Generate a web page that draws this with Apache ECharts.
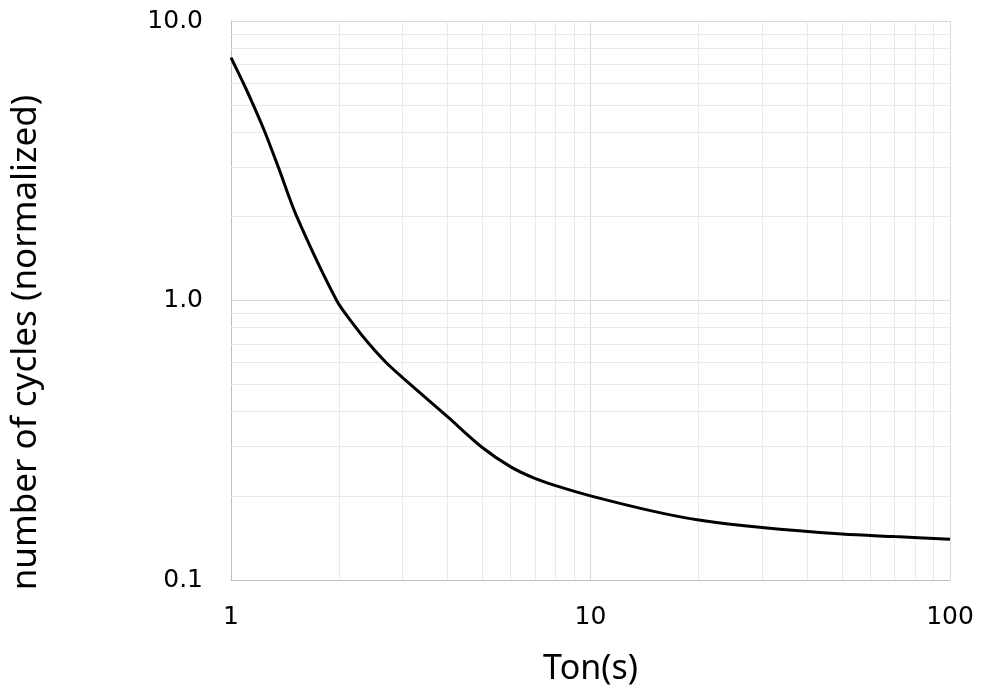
<!DOCTYPE html>
<html>
<head>
<meta charset="utf-8">
<script src="https://cdn.jsdelivr.net/npm/echarts@6/dist/echarts.min.js"></script>
<style>
  html, body { margin: 0; padding: 0; background: #fff; }
  #chart { width: 981px; height: 691px; }
</style>
</head>
<body>
<div id="chart"></div>
<script>
// Ton(s) vs normalized number of cycles
var tonValues = [1, 1.082, 1.154, 1.243, 1.354, 1.523, 1.968, 2.21, 2.42, 2.70, 3, 4, 5, 6, 7, 8, 10, 15, 20, 30, 50, 70, 100];
var cycleValues = [7.4, 6, 5, 4, 3, 2, 1.0, 0.81, 0.7, 0.6, 0.53, 0.384, 0.298, 0.254, 0.231, 0.2175, 0.2, 0.176, 0.164, 0.154, 0.146, 0.143, 0.140];

// minor gridline positions (log scale)
var xMinor = [2, 3, 4, 5, 6, 7, 8, 9, 20, 30, 40, 50, 60, 70, 80, 90];
var yMinor = [0.2, 0.3, 0.4, 0.5, 0.6, 0.7, 0.8, 0.9, 2, 3, 4, 5, 6, 7, 8, 9];

var myChart = echarts.init(document.getElementById('chart'));

var seriesData = tonValues.map(function (t, i) { return [t, cycleValues[i]]; });
var minorLines = [];
xMinor.forEach(function (v) { minorLines.push({ xAxis: v }); });
yMinor.forEach(function (v) { minorLines.push({ yAxis: v }); });

var tickFont = 'DejaVu Sans';
var nameFont = 'Noto Sans';

var option = {
    backgroundColor: '#FFFFFF',
    animation: false,
    grid: {
        left: 231,
        right: 31,
        top: 21,
        bottom: 111
    },
    xAxis: {
        type: 'log',
        logBase: 10,
        min: 1,
        max: 100,
        name: 'Ton(s)',
        nameLocation: 'middle',
        nameGap: 72,
        nameTextStyle: { fontFamily: nameFont, fontSize: 34, color: '#000' },
        axisLine: { show: true, lineStyle: { color: '#bfbfbf', width: 1 } },
        axisTick: { show: false },
        axisLabel: {
            fontFamily: tickFont, fontSize: 25, color: '#000', margin: 25,
            formatter: function (v) { return String(Math.round(v)); }
        },
        splitLine: { show: true, lineStyle: { color: '#d9d9d9', width: 1 } }
    },
    yAxis: {
        type: 'log',
        logBase: 10,
        min: 0.1,
        max: 10,
        name: 'number of cycles (normalized)',
        nameLocation: 'middle',
        nameGap: 187,
        nameTextStyle: { fontFamily: nameFont, fontSize: 35, color: '#000', padding: [0, 84, 0, 0] },
        axisLine: { show: true, lineStyle: { color: '#bfbfbf', width: 1 } },
        axisTick: { show: false },
        axisLabel: {
            fontFamily: tickFont, fontSize: 25, color: '#000', margin: 28,
            formatter: function (v) { return v.toFixed(1); }
        },
        splitLine: { show: true, lineStyle: { color: '#d9d9d9', width: 1 } }
    },
    series: [{
        type: 'line',
        data: seriesData,
        smooth: 0.3,
        showSymbol: false,
        lineStyle: { color: '#000', width: 3 },
        markLine: {
            silent: true,
            symbol: 'none',
            label: { show: false },
            lineStyle: { color: '#e9e9e9', width: 1, type: 'solid' },
            data: minorLines
        },
        z: 5
    }]
};
myChart.setOption(option);
</script>
</body>
</html>
